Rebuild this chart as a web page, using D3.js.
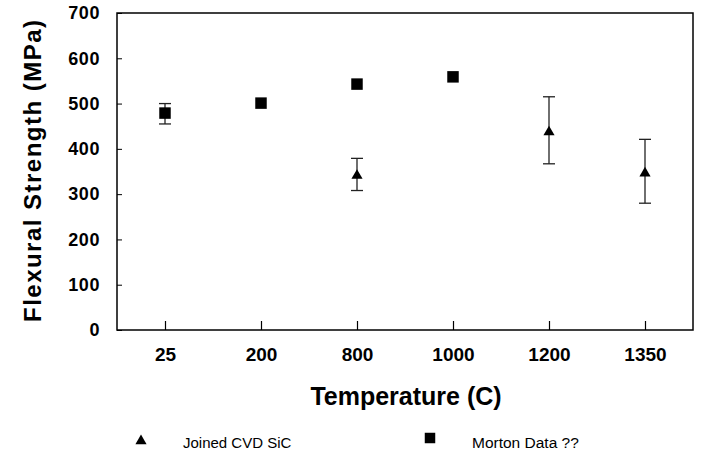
<!DOCTYPE html>
<html>
<head>
<meta charset="utf-8">
<script src="https://cdn.jsdelivr.net/npm/d3@7"></script>
<style>
  body { margin: 0; background: #fff; }
  text { font-family: "Liberation Sans", Arial, sans-serif; }
</style>
</head>
<body>
<div class="canvas"></div>
<script>
// chart data
const categories = ['25', '200', '800', '1000', '1200', '1350'];
const yTicks = [0, 100, 200, 300, 400, 500, 600, 700];

// Joined CVD SiC (triangles) with error bars
const joinedTemps = ['800', '1200', '1350'];
const joinedValues = [341, 437, 346];
const joinedLow = [308, 367, 280];
const joinedHigh = [379, 515, 421];

// Morton Data ?? (squares)
const mortonTemps = ['25', '200', '800', '1000'];
const mortonValues = [479, 501, 543, 559];
const mortonLow = [455, null, null, null];
const mortonHigh = [500, null, null, null];

const dims = { width: 702, height: 459 };
const plot = { left: 117, right: 693, top: 13, bottom: 330 };

const svg = d3.select('.canvas')
    .append('svg')
    .attr('width', dims.width)
    .attr('height', dims.height);

const x = d3.scalePoint()
    .domain(categories)
    .range([plot.left, plot.right])
    .padding(0.5);

const y = d3.scaleLinear()
    .domain([0, 700])
    .range([plot.bottom, plot.top]);

// y axis
const yAxis = svg.append('g')
    .attr('transform', `translate(${plot.left}, 0)`)
    .call(d3.axisLeft(y).tickValues(yTicks).tickSize(-5).tickPadding(17));
yAxis.select('.domain').remove();
yAxis.selectAll('line').attr('stroke', '#000');
yAxis.selectAll('text')
    .attr('fill', '#000')
    .style('font-size', '18px')
    .style('font-weight', 'bold')
    .style('letter-spacing', '0.6px');

// x axis
const xAxis = svg.append('g')
    .attr('transform', `translate(0, ${plot.bottom})`)
    .call(d3.axisBottom(x).tickSize(-9).tickPadding(18));
xAxis.select('.domain').remove();
xAxis.selectAll('line').attr('stroke', '#000').attr('stroke-width', 1.2);
xAxis.selectAll('text')
    .attr('fill', '#000')
    .style('font-size', '19px')
    .style('font-weight', 'bold');

// frame
svg.append('rect')
    .attr('x', plot.left)
    .attr('y', plot.top)
    .attr('width', plot.right - plot.left)
    .attr('height', plot.bottom - plot.top)
    .attr('fill', 'none')
    .attr('stroke', '#000')
    .attr('stroke-width', 1.5);

// axis titles
svg.append('text')
    .attr('transform', 'translate(41, 171) rotate(-90)')
    .attr('text-anchor', 'middle')
    .attr('textLength', 302)
    .attr('lengthAdjust', 'spacing')
    .style('font-size', '24px')
    .style('font-weight', 'bold')
    .text('Flexural Strength (MPa)');

svg.append('text')
    .attr('x', 406)
    .attr('y', 405)
    .attr('text-anchor', 'middle')
    .style('font-size', '25px')
    .style('font-weight', 'bold')
    .text('Temperature (C)');

// error bars
const drawErrors = (temps, low, high) => {
    const bars = temps.map((t, i) => ({ t, lo: low[i], hi: high[i] }))
        .filter(d => d.lo != null);
    const g = svg.append('g')
        .attr('stroke', '#222')
        .attr('stroke-width', 1.3);
    bars.forEach(d => {
        const cx = x(d.t);
        g.append('line').attr('x1', cx).attr('x2', cx).attr('y1', y(d.lo)).attr('y2', y(d.hi));
        g.append('line').attr('x1', cx - 6).attr('x2', cx + 6).attr('y1', y(d.lo)).attr('y2', y(d.lo));
        g.append('line').attr('x1', cx - 6).attr('x2', cx + 6).attr('y1', y(d.hi)).attr('y2', y(d.hi));
    });
};
drawErrors(joinedTemps, joinedLow, joinedHigh);
drawErrors(mortonTemps, mortonLow, mortonHigh);

// markers
const tri = d3.symbol().type(d3.symbolTriangle).size(54);
const sq = d3.symbol().type(d3.symbolSquare).size(132);

svg.selectAll('.joined')
    .data(joinedTemps.map((t, i) => ({ t, v: joinedValues[i] })))
    .enter()
    .append('path')
    .attr('class', 'joined')
    .attr('d', tri)
    .attr('fill', '#000')
    .attr('transform', d => `translate(${x(d.t)}, ${y(d.v)})`);

svg.selectAll('.morton')
    .data(mortonTemps.map((t, i) => ({ t, v: mortonValues[i] })))
    .enter()
    .append('path')
    .attr('class', 'morton')
    .attr('d', sq)
    .attr('fill', '#000')
    .attr('transform', d => `translate(${x(d.t)}, ${y(d.v)})`);

// legend
svg.append('path')
    .attr('d', tri)
    .attr('fill', '#000')
    .attr('transform', 'translate(141, 441)');
svg.append('text')
    .attr('x', 183)
    .attr('y', 448)
    .style('font-size', '15px')
    .text('Joined CVD SiC');

svg.append('path')
    .attr('d', d3.symbol().type(d3.symbolSquare).size(110))
    .attr('fill', '#000')
    .attr('transform', 'translate(430, 438)');
svg.append('text')
    .attr('x', 472)
    .attr('y', 448)
    .style('font-size', '15.5px')
    .text('Morton Data ??');
</script>
</body>
</html>
